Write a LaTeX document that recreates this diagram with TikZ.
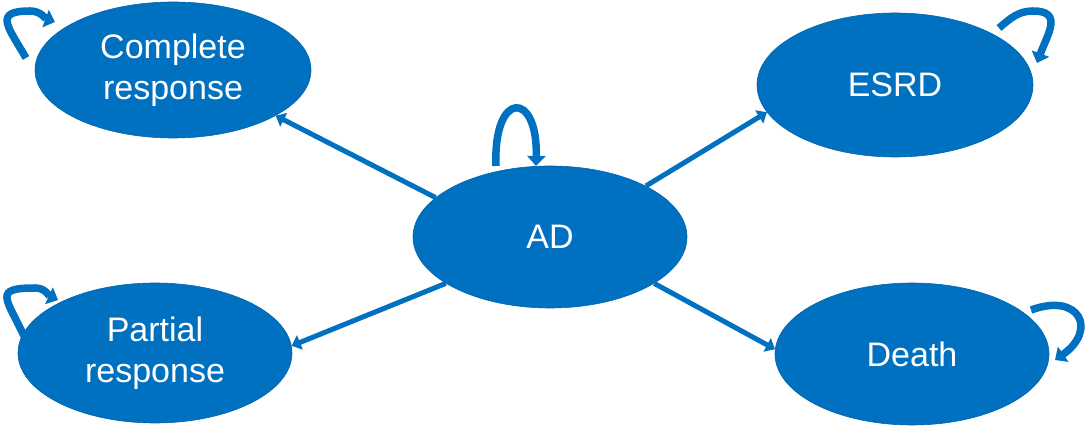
\documentclass[tikz,border=0pt]{standalone}
\usepackage{fontspec}
\setmainfont{Liberation Sans}
\usetikzlibrary{arrows.meta,calc,shapes.geometric}
\definecolor{ppblue}{RGB}{0,112,192}
\begin{document}
\begin{tikzpicture}[x=1pt,y=1pt,
  state/.style={ellipse, fill=ppblue, draw=ppblue!90!black, line width=0.6pt, inner sep=0pt,
    text=white, align=center, font=\fontsize{34}{41}\selectfont},
  trans/.style={draw=ppblue, line width=5pt, -{Triangle[width=15pt,length=9pt]}},
  selfloop/.style={draw=ppblue, line width=7.5pt, -{Triangle[width=18pt,length=10pt]}}]
\useasboundingbox (0,0) rectangle (1086,427);
\node[state, minimum width=276pt, minimum height=136pt] (CR) at (173,357) {Complete\\response};
\node[state, minimum width=276pt, minimum height=144pt] (ESRD) at (895,342) {ESRD};
\node[state, minimum width=274pt, minimum height=142pt] (AD) at (550,190) {AD};
\node[state, minimum width=274pt, minimum height=140pt] (PR) at (155,74) {Partial\\response};
\node[state, minimum width=274pt, minimum height=142pt] (DE) at (912,73) {Death};
% transitions
\draw[trans] (AD.161) -- (CR.-24);
\draw[trans] (AD.28) -- (ESRD.192);
\draw[trans] (AD.204) -- (PR.3);
\draw[trans] (AD.-24) -- (DE.178);
% self loops
\coordinate (crS) at (26,369);
\coordinate (crT) at (30,416);
\coordinate (crE) at (55,405);
\draw[selfloop] (crS) to[out=120,in=180,looseness=2] (crT) to[out=0,in=160] (crE);
\coordinate (esS) at (999,399);
\coordinate (esT) at (1033,416);
\coordinate (esE) at (1037,364);
\draw[selfloop] (esS) to[out=40,in=180] (esT) to[out=0,in=70,looseness=1.5] (esE);
\coordinate (adS) at (496,261);
\coordinate (adE) at (536,261);
\draw[selfloop] (adS) .. controls (493,337) and (538,337) .. (adE);
\coordinate (prS) at (24,91);
\coordinate (prT) at (35,139);
\coordinate (prE) at (58,127);
\draw[selfloop] (prS) to[out=115,in=180,looseness=2.2] (prT) to[out=0,in=155] (prE);
\coordinate (deS) at (1031,117);
\coordinate (deE) at (1055,67);
\draw[selfloop] (deS) to[out=20,in=35,looseness=2.4] (deE);
\end{tikzpicture}
\end{document}
